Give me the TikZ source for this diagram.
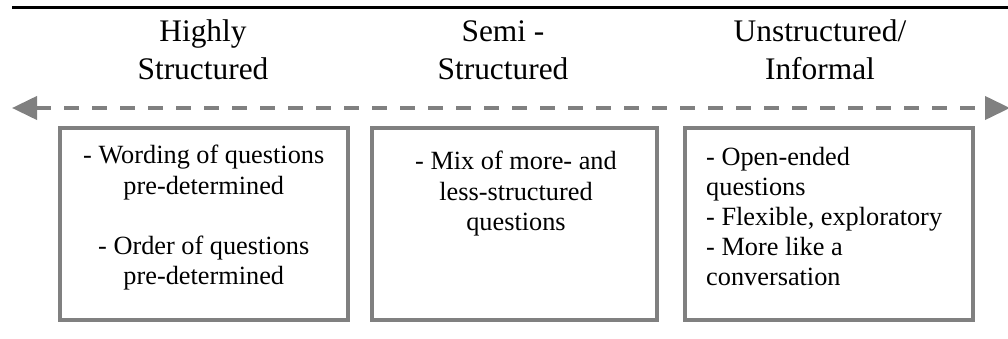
\documentclass[tikz,border=0pt]{standalone}
\usepackage{fontspec}
\setmainfont{Liberation Serif}
\usetikzlibrary{arrows.meta}
\definecolor{framegray}{RGB}{128,128,128}
\begin{document}
\begin{tikzpicture}[x=1pt,y=-1pt,
  frame/.style={draw=framegray,line width=4pt,minimum width=#1,minimum height=192pt,inner sep=0pt},
  head/.style={anchor=base,inner sep=0pt,font=\fontsize{31.4}{38}\selectfont},
  body/.style={inner sep=0pt,font=\fontsize{26.3}{30.2}\selectfont},
  scaleline/.style={framegray,line width=4pt,dash pattern=on 15pt off 13pt,
    {Triangle[length=25pt,width=23pt]}-{Triangle[length=25pt,width=23pt]}},
]
\useasboundingbox (0,0) rectangle (1008,339);

% top rule
\coordinate (TL) at (12,7.5);
\coordinate (TR) at (1010,7.5);
\draw[black,line width=3pt] (TL) -- (TR);

% column headings
\node[head] (h1) at (203,42) {\parbox[t]{250pt}{\centering Highly\\Structured}};
\node[head] (h2) at (503,42) {\parbox[t]{250pt}{\centering Semi -\\Structured}};
\node[head] (h3) at (820,42) {\parbox[t]{250pt}{\centering Unstructured/\\Informal}};

% double-headed dashed scale
\coordinate (AL) at (12,108);
\coordinate (AR) at (1010,108);
\draw[scaleline] (AL) -- (AR);

% frames
\node[frame=287.5pt] (box1) at (203.75,224) {};
\node[frame=285pt] (box2) at (514.5,224) {};
\node[frame=288pt] (box3) at (829,224) {};

% frame contents
\node[body,anchor=base] (t1) at (203.75,164) {\parbox[t]{280pt}{\centering
  - Wording of questions\\pre-determined\\\mbox{}\\- Order of questions\\pre-determined}};
\node[body,anchor=base] (t2) at (516,170) {\parbox[t]{280pt}{\centering
  - Mix of more- and\\less-structured\\questions}};
\node[body,anchor=base west] (t3) at (706,165) {\parbox[t]{262pt}{\raggedright
  - Open-ended\\questions\\- Flexible, exploratory\\- More like a\\conversation}};
\end{tikzpicture}
\end{document}
